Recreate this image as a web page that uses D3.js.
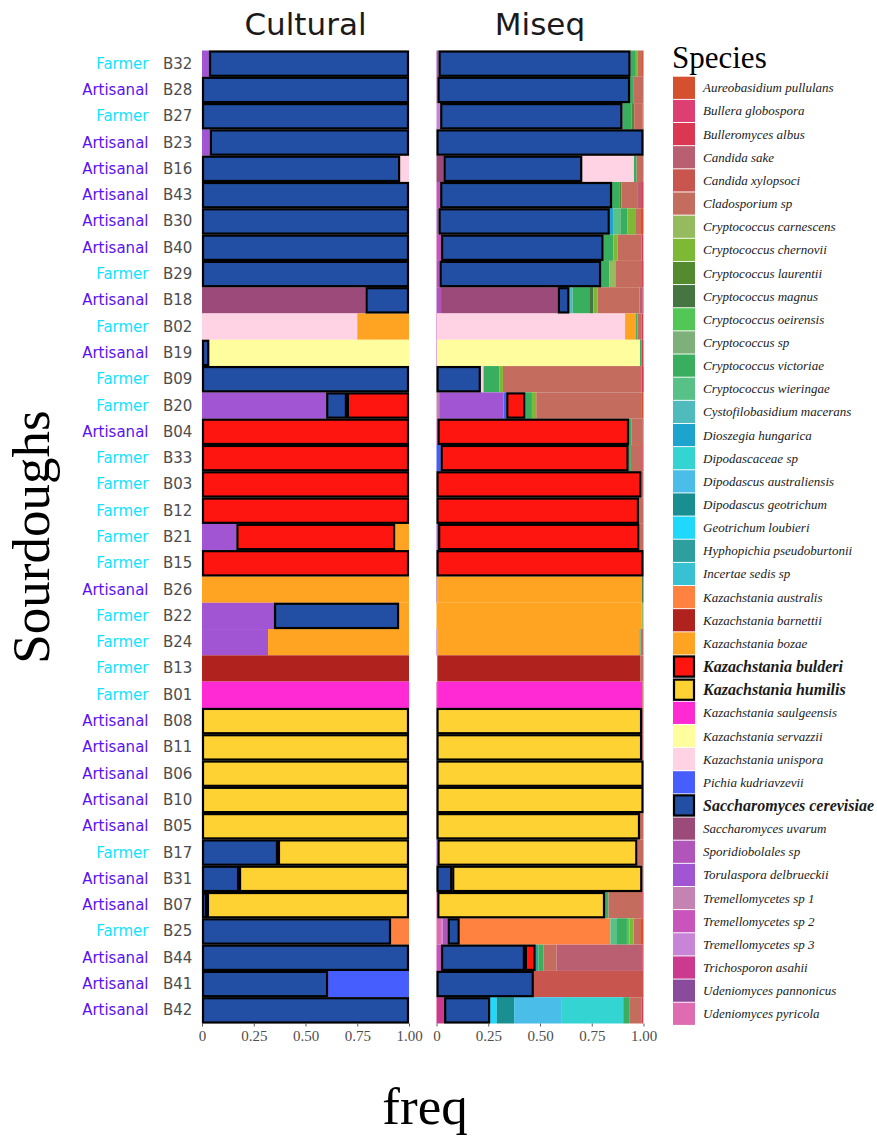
<!DOCTYPE html>
<html>
<head>
<meta charset="utf-8">
<script src="https://cdn.jsdelivr.net/npm/d3@7"></script>
<style>
  html, body { margin: 0; padding: 0; background: #fff; }
  svg { display: block; }
</style>
</head>
<body>
<div id="chart"></div>
<script>
// ---------------- DATA ----------------
const samples = ["B32","B28","B27","B23","B16","B43","B30","B40","B29","B18","B02","B19","B09","B20","B04","B33","B03","B12","B21","B15","B26","B22","B24","B13","B01","B08","B11","B06","B10","B05","B17","B31","B07","B25","B44","B41","B42"];
const groups = ["Farmer","Artisanal","Farmer","Artisanal","Artisanal","Artisanal","Artisanal","Artisanal","Farmer","Artisanal","Farmer","Artisanal","Farmer","Farmer","Artisanal","Farmer","Farmer","Farmer","Farmer","Farmer","Artisanal","Farmer","Farmer","Farmer","Farmer","Artisanal","Artisanal","Artisanal","Artisanal","Artisanal","Farmer","Artisanal","Artisanal","Farmer","Artisanal","Artisanal","Artisanal"];
const groupColors = {Farmer: "#12E2FF", Artisanal: "#5A12F2"};

const speciesKeys = ["Aur","Bgl","Bal","Csa","Cxy","Cla","Ccar","Cche","Clau","Cmag","Coei","Csp","Cvic","Cwie","Cys","Dio","Dsp","Dau","Dge","Geo","Hyp","Ins","Kau","Kba","Kbo","Kbu","Khu","Ksa","Kse","Kun","Pku","Sce","Suv","Spo","Tde","Tr1","Tr2","Tr3","Tas","Upa","Upy"];
const speciesNames = ["Aureobasidium pullulans","Bullera globospora","Bulleromyces albus","Candida sake","Candida xylopsoci","Cladosporium sp","Cryptococcus carnescens","Cryptococcus chernovii","Cryptococcus laurentii","Cryptococcus magnus","Cryptococcus oeirensis","Cryptococcus sp","Cryptococcus victoriae","Cryptococcus wieringae","Cystofilobasidium macerans","Dioszegia hungarica","Dipodascaceae sp","Dipodascus australiensis","Dipodascus geotrichum","Geotrichum loubieri","Hyphopichia pseudoburtonii","Incertae sedis sp","Kazachstania australis","Kazachstania barnettii","Kazachstania bozae","Kazachstania bulderi","Kazachstania humilis","Kazachstania saulgeensis","Kazachstania servazzii","Kazachstania unispora","Pichia kudriavzevii","Saccharomyces cerevisiae","Saccharomyces uvarum","Sporidiobolales sp","Torulaspora delbrueckii","Tremellomycetes sp 1","Tremellomycetes sp 2","Tremellomycetes sp 3","Trichosporon asahii","Udeniomyces pannonicus","Udeniomyces pyricola"];
const speciesColors = ["#D4502F","#DE3F72","#DC3752","#BA5E71","#C9554F","#C46D5E","#96BA5E","#7EB936","#548B2E","#457540","#52C755","#7EB07A","#38AE5E","#57C187","#4FBBBD","#1DA4CE","#33D4D1","#4ABEE8","#1A8F91","#1FD8FC","#2D9F9E","#38C1D3","#FF8240","#AF221E","#FFA322","#FE150F","#FFD233","#FF2AD4","#FFFD9E","#FFD3E3","#475EFF","#224FA3","#9C4A7A","#B255BA","#A255D2","#C483B3","#C854BC","#C884D6","#CB3A8F","#8A4B9C","#DF6BB0"];
const highlighted = ["Kbu","Khu","Sce"];

const panelTitles = ["Cultural","Miseq"];
const tickValues = [0, 0.25, 0.5, 0.75, 1];
const tickLabels = ["0","0.25","0.50","0.75","1.00"];

// Cultural frequencies, one object per sample (same order as samples)
const culturalFreq = [
  {Tde:0.034, Sce:0.966},
  {Sce:1},
  {Sce:1},
  {Tde:0.038, Sce:0.962},
  {Sce:0.957, Kun:0.043},
  {Sce:1},
  {Sce:1},
  {Sce:1},
  {Sce:1},
  {Suv:0.79, Sce:0.21},
  {Kun:0.75, Kbo:0.25},
  {Sce:0.035, Kse:0.965},
  {Sce:1},
  {Tde:0.60, Sce:0.10, Kbu:0.30},
  {Kbu:1},
  {Kbu:1},
  {Kbu:1},
  {Kbu:1},
  {Tde:0.166, Kbu:0.767, Kbo:0.067},
  {Kbu:1},
  {Kbo:1},
  {Tde:0.348, Sce:0.604, Kbo:0.048},
  {Tde:0.319, Kbo:0.681},
  {Kba:1},
  {Ksa:1},
  {Khu:1},
  {Khu:1},
  {Khu:1},
  {Khu:1},
  {Khu:1},
  {Sce:0.367, Khu:0.633},
  {Sce:0.179, Khu:0.821},
  {Sce:0.024, Khu:0.976},
  {Sce:0.913, Kau:0.087},
  {Sce:1},
  {Sce:0.609, Pku:0.391},
  {Sce:1}
];

// Miseq frequencies, one object per sample (same order as samples)
const miseqFreq = [
  {Spo:0.010, Sce:0.927, Cvic:0.026, Cche:0.010, Cla:0.020, Aur:0.007},
  {Spo:0.005, Sce:0.930, Cvic:0.015, Cla:0.050},
  {Tr3:0.018, Sce:0.880, Cvic:0.045, Clau:0.012, Cla:0.040, Aur:0.005},
  {Sce:1},
  {Suv:0.034, Sce:0.670, Kun:0.250, Cvic:0.013, Cla:0.033},
  {Tr2:0.018, Sce:0.830, Cvic:0.035, Clau:0.010, Cla:0.080, Csa:0.020, Bal:0.007},
  {Spo:0.010, Sce:0.827, Dio:0.016, Cwie:0.035, Cvic:0.035, Cche:0.037, Cla:0.024, Aur:0.016},
  {Tr2:0.022, Sce:0.785, Cvic:0.048, Cche:0.020, Cla:0.116, Bal:0.008},
  {Spo:0.015, Sce:0.780, Cvic:0.039, Ccar:0.030, Cla:0.129, Bal:0.007},
  {Spo:0.022, Suv:0.564, Sce:0.056, Cys:0.016, Cvic:0.080, Cmag:0.020, Cche:0.020, Cla:0.203, Csa:0.015, Bal:0.004},
  {Tr2:0.003, Kun:0.908, Kbo:0.053, Cvic:0.007, Cla:0.020, Bal:0.008},
  {Tr2:0.003, Kse:0.980, Cvic:0.007, Bal:0.010},
  {Kun:0.013, Sce:0.214, Cvic:0.076, Cche:0.018, Cla:0.670, Bal:0.010},
  {Tr1:0.013, Tde:0.311, Pku:0.013, Kbu:0.092, Cvic:0.032, Cche:0.021, Cla:0.507, Aur:0.011},
  {Tr2:0.005, Kbu:0.925, Cvic:0.011, Cla:0.056, Bal:0.003},
  {Pku:0.020, Kbu:0.908, Cvic:0.011, Cla:0.055, Bal:0.006},
  {Kbu:0.990, Cla:0.010},
  {Kbu:0.978, Cla:0.022},
  {Tde:0.008, Kbu:0.972, Cla:0.020},
  {Kbu:1},
  {Upa:0.003, Kbo:0.990, Cmag:0.007},
  {Kbo:0.990, Ccar:0.010},
  {Tde:0.004, Kbo:0.975, Cwie:0.008, Cla:0.013},
  {Kbu:0.004, Kba:0.982, Cla:0.014},
  {Tas:0.003, Ksa:0.991, Cla:0.006},
  {Khu:0.993, Cla:0.007},
  {Khu:0.993, Cla:0.007},
  {Khu:1},
  {Khu:1},
  {Khu:0.983, Cla:0.017},
  {Tde:0.005, Khu:0.965, Cla:0.030},
  {Sce:0.076, Khu:0.918, Cla:0.006},
  {Tr2:0.004, Khu:0.810, Cvic:0.017, Cla:0.163, Bal:0.006},
  {Upy:0.022, Tr3:0.008, Spo:0.024, Sce:0.058, Kau:0.728, Cwie:0.032, Cvic:0.048, Coei:0.013, Cche:0.019, Cla:0.032, Aur:0.016},
  {Tr2:0.022, Sce:0.405, Kbu:0.052, Hyp:0.013, Cvic:0.024, Cla:0.064, Csa:0.414, Bal:0.006},
  {Sce:0.470, Cxy:0.530},
  {Tas:0.037, Sce:0.222, Geo:0.032, Dge:0.084, Dau:0.227, Dsp:0.300, Cvic:0.029, Cla:0.060, Bal:0.008}
];

// ---------------- DRAWING ----------------
const W = 877, H = 1140;
const svg = d3.select("#chart").append("svg").attr("width", W).attr("height", H);

const colorOf = d3.scaleOrdinal().domain(speciesKeys).range(speciesColors);
const nameOf = d3.scaleOrdinal().domain(speciesKeys).range(speciesNames);

const y = d3.scaleBand().domain(samples).range([50.5, 1023.5]).paddingInner(0).paddingOuter(0);

const panels = [
  {title: panelTitles[0], data: culturalFreq, x: d3.scaleLinear().domain([0, 1]).range([202, 409])},
  {title: panelTitles[1], data: miseqFreq, x: d3.scaleLinear().domain([0, 1]).range([436.5, 643.5])}
];

// stacking order: last species on the left, first on the right
const stackOrder = speciesKeys.slice().reverse();

panels.forEach(p => {
  const segs = [];
  p.data.forEach((row, i) => {
    let cum = 0;
    stackOrder.forEach(k => {
      const v = row[k];
      if (v) {
        segs.push({sample: samples[i], key: k, x0: cum, x1: cum + v});
        cum += v;
      }
    });
  });
  const g = svg.append("g");
  const plain = segs.filter(s => !highlighted.includes(s.key));
  const bold = segs.filter(s => highlighted.includes(s.key));
  g.selectAll("rect.plain").data(plain).join("rect")
    .attr("class", "plain")
    .attr("x", d => p.x(d.x0))
    .attr("width", d => Math.max(0, p.x(d.x1) - p.x(d.x0)))
    .attr("y", d => y(d.sample))
    .attr("height", y.bandwidth())
    .attr("fill", d => colorOf(d.key));
  g.selectAll("rect.bold").data(bold).join("rect")
    .attr("class", "bold")
    .attr("x", d => p.x(d.x0) + 1)
    .attr("width", d => Math.max(0, p.x(d.x1) - p.x(d.x0) - 2))
    .attr("y", d => y(d.sample) + 1)
    .attr("height", y.bandwidth() - 2)
    .attr("fill", d => colorOf(d.key))
    .attr("stroke", "#000")
    .attr("stroke-width", 2.2);

  // panel title
  svg.append("text")
    .attr("x", (p.x.range()[0] + p.x.range()[1]) / 2)
    .attr("y", 35)
    .attr("text-anchor", "middle")
    .attr("font-family", "DejaVu Sans")
    .attr("font-size", 31)
    .attr("fill", "#1a1a1a")
    .text(p.title);

  // x axis
  const ax = svg.append("g")
    .attr("transform", `translate(0,${y.range()[1]})`)
    .call(d3.axisBottom(p.x).tickValues(tickValues).tickFormat((d, i) => tickLabels[i]).tickSize(3).tickPadding(4));
  ax.select(".domain").remove();
  ax.selectAll(".tick line").attr("stroke", "#333").attr("stroke-width", 0.8);
  ax.selectAll(".tick text")
    .attr("font-family", "Liberation Serif")
    .attr("font-size", 15)
    .attr("fill", "#4d4d4d");
});

// y axis labels: group + sample
const yl = svg.append("g");
samples.forEach((s, i) => {
  const cy = y(s) + y.bandwidth() / 2;
  yl.append("text")
    .attr("x", 148.5).attr("y", cy)
    .attr("text-anchor", "end")
    .attr("dominant-baseline", "central")
    .attr("font-family", "DejaVu Sans")
    .attr("font-size", 15)
    .attr("fill", groupColors[groups[i]])
    .text(groups[i]);
  yl.append("text")
    .attr("x", 163).attr("y", cy)
    .attr("text-anchor", "start")
    .attr("dominant-baseline", "central")
    .attr("font-family", "DejaVu Sans")
    .attr("font-size", 15)
    .attr("fill", "#4d4d4d")
    .text(s);
});

// axis titles
svg.append("text")
  .attr("transform", `translate(49,${(y.range()[0] + y.range()[1]) / 2}) rotate(-90)`)
  .attr("text-anchor", "middle")
  .attr("font-family", "Liberation Serif")
  .attr("font-size", 53)
  .attr("fill", "#000")
  .text("Sourdoughs");
svg.append("text")
  .attr("x", 425).attr("y", 1124)
  .attr("text-anchor", "middle")
  .attr("font-family", "Liberation Serif")
  .attr("font-size", 53)
  .attr("fill", "#000")
  .text("freq");

// legend
const lg = svg.append("g");
lg.append("text")
  .attr("x", 672).attr("y", 68)
  .attr("font-family", "Liberation Serif")
  .attr("font-size", 31)
  .attr("fill", "#000")
  .text("Species");
const legY = d3.scaleLinear().domain([0, speciesKeys.length - 1]).range([76.7, 1002.7]);
speciesKeys.forEach((k, i) => {
  const hl = highlighted.includes(k);
  lg.append("rect")
    .attr("x", hl ? 674 : 673).attr("y", legY(i) + (hl ? 1 : 0))
    .attr("width", hl ? 20 : 22).attr("height", hl ? 20.2 : 22.2)
    .attr("fill", colorOf(k))
    .attr("stroke", hl ? "#000" : "none")
    .attr("stroke-width", hl ? 2.2 : 0);
  lg.append("text")
    .attr("x", 703).attr("y", legY(i) + 11.1)
    .attr("dominant-baseline", "central")
    .attr("font-family", "Liberation Serif")
    .attr("font-style", "italic")
    .attr("font-weight", hl ? "bold" : "normal")
    .attr("font-size", hl ? 16 : 13)
    .attr("fill", "#1a1a1a")
    .text(nameOf(k));
});
</script>
</body>
</html>
